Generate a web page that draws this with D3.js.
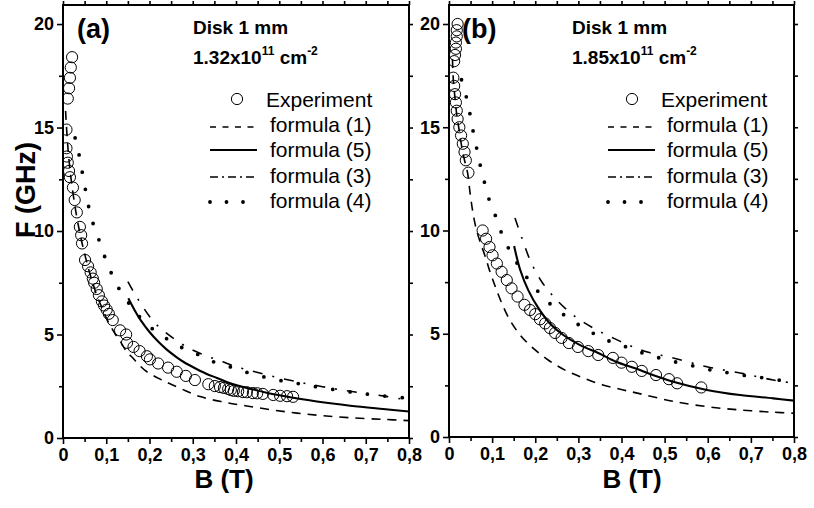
<!DOCTYPE html>
<html><head><meta charset="utf-8">
<script src="https://cdn.jsdelivr.net/npm/d3@7"></script>
<style>
body{margin:0;background:#fff;}
svg text{font-family:"Liberation Sans",Arial,Helvetica,sans-serif;}
</style></head><body>
<svg id="chart" width="814" height="508"></svg>
<script>
// ---------- data ----------
const xTickValues = [0,0.1,0.2,0.3,0.4,0.5,0.6,0.7,0.8];
const xTickLabels = ["0","0,1","0,2","0,3","0,4","0,5","0,6","0,7","0,8"];
const yTickValues = [0,5,10,15,20];
const yTickLabels = ["0","5","10","15","20"];
const legendLabels = ["Experiment","formula (1)","formula (5)","formula (3)","formula (4)"];
const panelLabels = ["(a)","(b)"];
const sampleLabel = "Disk 1 mm";
const densities = ["1.32","1.85"];

// panel (a)  [B (T), F (GHz)]
const expA = [[0.021,18.4],[0.018,17.9],[0.016,17.4],[0.014,16.9],[0.011,16.4],[0.008,14.9],[0.008,14.0],[0.009,13.6],[0.011,13.3],[0.014,12.9],[0.016,12.6],[0.023,12.1],[0.027,11.5],[0.032,10.9],[0.039,10.2],[0.042,9.8],[0.044,9.4],[0.051,8.6],[0.058,8.3],[0.064,8.0],[0.069,7.7],[0.072,7.5],[0.078,7.2],[0.083,6.9],[0.090,6.6],[0.095,6.4],[0.101,6.2],[0.106,6.0],[0.115,5.7],[0.132,5.2],[0.146,5.0],[0.148,4.6],[0.163,4.4],[0.177,4.2],[0.194,3.95],[0.201,3.8],[0.220,3.6],[0.243,3.4],[0.263,3.2],[0.284,3.0],[0.305,2.8],[0.336,2.6],[0.351,2.51],[0.363,2.46],[0.372,2.42],[0.382,2.37],[0.388,2.32],[0.395,2.28],[0.405,2.26],[0.416,2.22],[0.425,2.21],[0.439,2.17],[0.449,2.16],[0.462,2.13],[0.486,2.08],[0.502,2.04],[0.518,2.02],[0.532,1.99]];
const f1A = [[0.006,15.8],[0.010,14.4],[0.015,13.2],[0.02,12.3],[0.03,10.9],[0.04,9.8],[0.05,8.9],[0.06,8.1],[0.07,7.4],[0.08,6.8],[0.09,6.3],[0.10,5.8],[0.11,5.4],[0.12,5.05],[0.13,4.75],[0.148,4.15],[0.16,3.9],[0.175,3.55],[0.194,3.2],[0.229,2.8],[0.271,2.4],[0.317,2.0],[0.37,1.74],[0.425,1.55],[0.486,1.35],[0.541,1.2],[0.6,1.08],[0.664,0.98],[0.74,0.9],[0.8,0.84]];
const f5A = [[0.151,6.75],[0.165,6.2],[0.18,5.68],[0.2,5.12],[0.22,4.66],[0.24,4.27],[0.263,3.9],[0.28,3.66],[0.301,3.42],[0.33,3.12],[0.356,2.9],[0.38,2.7],[0.41,2.5],[0.44,2.34],[0.471,2.19],[0.51,2.03],[0.55,1.88],[0.587,1.76],[0.664,1.56],[0.74,1.4],[0.8,1.28]];
const f3A = [[0.150,7.55],[0.165,7.0],[0.178,6.55],[0.201,5.85],[0.22,5.4],[0.24,5.05],[0.263,4.7],[0.286,4.4],[0.31,4.15],[0.34,3.9],[0.37,3.68],[0.393,3.5],[0.42,3.33],[0.448,3.18],[0.48,3.0],[0.509,2.86],[0.55,2.68],[0.6,2.48],[0.65,2.3],[0.7,2.15],[0.75,2.0],[0.8,1.82]];
const f4A = [[0.028,14.5],[0.037,13.7],[0.044,12.9],[0.051,12.1],[0.058,11.3],[0.069,10.4],[0.081,9.7],[0.095,8.84],[0.111,8.0],[0.13,7.2],[0.16,6.3],[0.19,5.57],[0.23,4.93],[0.271,4.41],[0.309,4.06],[0.347,3.69],[0.386,3.44],[0.425,3.17],[0.463,2.96],[0.502,2.78],[0.541,2.64],[0.578,2.5],[0.617,2.37],[0.656,2.25],[0.694,2.14],[0.733,2.05],[0.772,1.97],[0.79,1.94]];

// panel (b)
const expB = [[0.020,20.0],[0.018,19.7],[0.018,19.4],[0.016,19.1],[0.016,18.8],[0.014,18.5],[0.012,18.2],[0.010,17.4],[0.012,17.0],[0.014,16.6],[0.016,16.2],[0.018,15.8],[0.020,15.4],[0.024,15.0],[0.028,14.6],[0.032,14.2],[0.036,13.8],[0.039,13.4],[0.045,12.8],[0.078,10.0],[0.086,9.6],[0.094,9.2],[0.101,8.8],[0.111,8.4],[0.122,8.0],[0.134,7.6],[0.145,7.2],[0.159,6.8],[0.175,6.4],[0.188,6.15],[0.200,5.95],[0.211,5.7],[0.223,5.5],[0.234,5.28],[0.246,5.04],[0.261,4.8],[0.278,4.55],[0.299,4.36],[0.323,4.16],[0.346,3.97],[0.380,3.83],[0.400,3.6],[0.424,3.4],[0.447,3.2],[0.480,3.0],[0.510,2.8],[0.529,2.6],[0.585,2.4]];
const f1B = [[0.008,18.3],[0.010,17.3],[0.014,16.4],[0.018,15.6],[0.024,14.8],[0.030,14.0],[0.036,13.4],[0.043,12.8],[0.049,11.8],[0.056,10.8],[0.064,10.0],[0.073,9.4],[0.083,8.8],[0.095,8.0],[0.107,7.3],[0.122,6.5],[0.141,5.67],[0.165,4.94],[0.195,4.3],[0.23,3.73],[0.269,3.24],[0.311,2.86],[0.357,2.52],[0.404,2.28],[0.45,2.06],[0.519,1.73],[0.598,1.47],[0.675,1.31],[0.752,1.2],[0.8,1.15]];
const f5B = [[0.151,9.25],[0.165,8.1],[0.184,7.1],[0.207,6.25],[0.234,5.5],[0.265,4.94],[0.304,4.45],[0.346,4.07],[0.389,3.63],[0.435,3.3],[0.466,3.05],[0.52,2.68],[0.598,2.28],[0.675,2.03],[0.752,1.87],[0.8,1.76]];
const f3B = [[0.153,10.6],[0.168,9.7],[0.188,8.57],[0.215,7.52],[0.25,6.63],[0.288,5.9],[0.334,5.28],[0.38,4.8],[0.427,4.36],[0.462,4.1],[0.52,3.83],[0.598,3.4],[0.675,3.1],[0.752,2.76],[0.8,2.6]];
const f4B = [[0.029,17.3],[0.041,16.4],[0.049,15.6],[0.056,14.8],[0.064,14.0],[0.072,13.2],[0.082,12.35],[0.093,11.5],[0.107,10.75],[0.121,9.92],[0.139,9.1],[0.162,8.28],[0.19,7.47],[0.225,6.63],[0.264,5.95],[0.304,5.39],[0.342,4.94],[0.38,4.57],[0.42,4.3],[0.458,4.0],[0.497,3.78],[0.536,3.58],[0.578,3.39],[0.617,3.2],[0.652,3.1],[0.694,2.95],[0.733,2.86],[0.772,2.73],[0.79,2.68]];

// ---------- drawing ----------
const svg = d3.select("#chart");
const panels = [
  {left:63, right:409, top:5, bottom:438, lab:panelLabels[0], dens:densities[0], exp:expA, f1:f1A, f5:f5A, f3:f3A, f4:f4A,
   labX:77, infoX:193, legCircX:237, legExpX:266, legLineX1:210, legLineX2:257, legTextX:270, titleX:224},
  {left:449, right:794, top:5, bottom:437, lab:panelLabels[1], dens:densities[1], exp:expB, f1:f1B, f5:f5B, f3:f3B, f4:f4B,
   labX:462, infoX:572, legCircX:632, legExpX:661, legLineX1:608, legLineX2:655, legTextX:667, titleX:632}
];

const styles = {
  f1:{dash:"9,7", w:1.6, cap:"butt", legDash:"6,6.5"},
  f5:{dash:null, w:2.1, cap:"butt", legDash:null},
  f3:{dash:"10,10,2,10", w:1.6, cap:"butt", legDash:"8,4,2,4"},
  f4:{dash:"0,17.5", w:3.8, cap:"round", legDash:"0,16.5"}
};

panels.forEach((p,pi)=>{
  const x = d3.scaleLinear().domain([0,0.8]).range([p.left,p.right]);
  const y = d3.scaleLinear().domain([0,20.92]).range([p.bottom,p.top]);
  const g = svg.append("g");
  const clipId = "clip"+pi;
  g.append("clipPath").attr("id",clipId).append("rect")
    .attr("x",p.left).attr("y",p.top).attr("width",p.right-p.left).attr("height",p.bottom-p.top);

  const line = d3.line().x(d=>x(d[0])).y(d=>y(d[1])).curve(d3.curveCatmullRom.alpha(0.5));
  const plot = g.append("g").attr("clip-path",`url(#${clipId})`);
  ["f1","f5","f3","f4"].forEach(k=>{
    const s = styles[k];
    const path = plot.append("path").datum(p[k]).attr("d",line)
      .attr("fill","none").attr("stroke","#000").attr("stroke-width",s.w)
      .attr("stroke-linecap",s.cap);
    if(s.dash) path.attr("stroke-dasharray",s.dash);
  });
  plot.selectAll("circle.exp").data(p.exp).join("circle").attr("class","exp")
    .attr("cx",d=>x(d[0])).attr("cy",d=>y(d[1])).attr("r",5.6)
    .attr("fill","none").attr("stroke","#000").attr("stroke-width",1);

  // axes
  const minorX = d3.range(0.05,0.8,0.1);
  const minorY = [2.5,7.5,12.5,17.5];
  const fmtX = (d,i)=>xTickLabels[i];
  const fmtY = (d,i)=>yTickLabels[i];
  const ax = (sel)=>{sel.select(".domain").remove(); sel.selectAll("line").attr("stroke","#000").attr("stroke-width",1.6);};
  g.append("g").attr("transform",`translate(0,${p.bottom})`)
    .call(d3.axisBottom(x).tickValues(xTickValues).tickFormat(fmtX).tickSize(6).tickPadding(4)).call(ax)
    .selectAll("text").attr("font-size",18).attr("font-weight","bold").attr("fill","#000");
  g.append("g").attr("transform",`translate(0,${p.bottom})`)
    .call(d3.axisBottom(x).tickValues(minorX).tickFormat("").tickSize(4)).call(ax);
  g.append("g").attr("transform",`translate(${p.left},0)`)
    .call(d3.axisLeft(y).tickValues(yTickValues).tickFormat(fmtY).tickSize(6).tickPadding(3)).call(ax)
    .selectAll("text").attr("font-size",18).attr("font-weight","bold").attr("fill","#000");
  g.append("g").attr("transform",`translate(${p.left},0)`)
    .call(d3.axisLeft(y).tickValues(minorY).tickFormat("").tickSize(4)).call(ax);
  g.append("g").attr("transform",`translate(0,${p.top})`)
    .call(d3.axisTop(x).tickValues(xTickValues.concat(minorX)).tickFormat("").tickSize(4)).call(ax);
  g.append("g").attr("transform",`translate(${p.right},0)`)
    .call(d3.axisRight(y).tickValues(yTickValues.concat(minorY)).tickFormat("").tickSize(4)).call(ax);
  g.append("rect").attr("x",p.left).attr("y",p.top).attr("width",p.right-p.left).attr("height",p.bottom-p.top)
    .attr("fill","none").attr("stroke","#000").attr("stroke-width",2);

  // annotations
  g.append("text").attr("x",p.labX).attr("y",37.5).attr("font-size",27).attr("font-weight","bold").text(p.lab);
  g.append("text").attr("x",p.infoX).attr("y",34).attr("font-size",19).attr("font-weight","bold").text(sampleLabel);
  const t2 = g.append("text").attr("x",p.infoX).attr("y",64).attr("font-size",19).attr("font-weight","bold");
  t2.append("tspan").text(p.dens+"x10");
  t2.append("tspan").attr("font-size",12).attr("dy",-9).text("11");
  t2.append("tspan").attr("dy",9).text(" cm");
  t2.append("tspan").attr("font-size",12).attr("dy",-9).text("-2");

  // legend
  g.append("circle").attr("cx",p.legCircX).attr("cy",99).attr("r",5.6).attr("fill","none").attr("stroke","#000").attr("stroke-width",1);
  g.append("text").attr("x",p.legExpX).attr("y",106.5).attr("font-size",21).text(legendLabels[0]);
  const legY = [127,150,177,202];
  const legTY = [132,157,183,208];
  ["f1","f5","f3","f4"].forEach((k,i)=>{
    const s = styles[k];
    const l = g.append("line").attr("x1",p.legLineX1).attr("x2",p.legLineX2).attr("y1",legY[i]).attr("y2",legY[i])
      .attr("stroke","#000").attr("stroke-width",s.w).attr("stroke-linecap",s.cap);
    if(s.legDash) l.attr("stroke-dasharray",s.legDash);
    g.append("text").attr("x",p.legTextX).attr("y",legTY[i]).attr("font-size",21).text(legendLabels[i+1]);
  });

  // axis titles
  g.append("text").attr("x",p.titleX).attr("y",488).attr("text-anchor","middle")
    .attr("font-size",26).attr("font-weight","bold").text("B (T)");
});

svg.append("text").attr("transform","translate(35,190) rotate(-90)").attr("text-anchor","middle")
  .attr("font-size",27).attr("font-weight","bold").text("F (GHz)");
</script>
</body></html>
